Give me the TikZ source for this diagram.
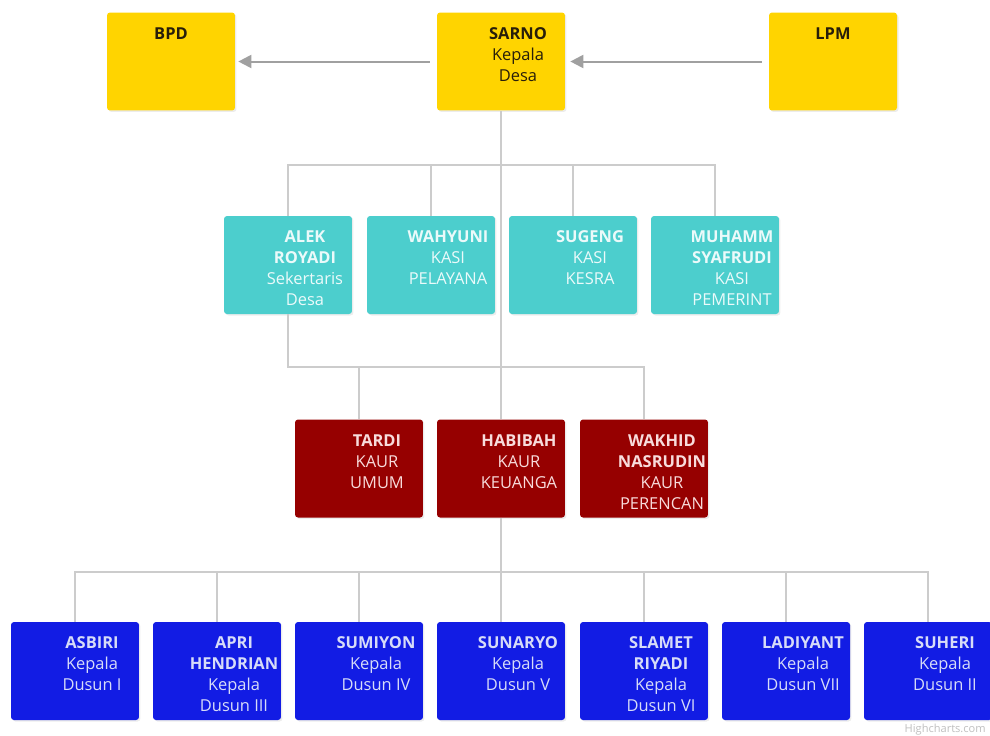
\documentclass[tikz,border=0pt]{standalone}
\usepackage{fontspec}
\setmainfont{Open Sans}
\usetikzlibrary{arrows.meta,shadows}

\definecolor{desayellow}{RGB}{255,212,0}
\definecolor{kasiteal}{RGB}{76,206,205}
\definecolor{kaurred}{RGB}{150,0,0}
\definecolor{dusunblue}{RGB}{18,28,228}
\definecolor{linegray}{RGB}{204,204,204}
\definecolor{arrowgray}{RGB}{160,160,160}
\definecolor{darktext}{RGB}{40,30,10}
\definecolor{tealtext}{RGB}{235,250,250}
\definecolor{redtext}{RGB}{248,220,220}
\definecolor{bluetext}{RGB}{215,220,248}

\tikzset{
  orgbox/.style={rectangle, rounded corners=0.06cm, minimum width=2.56cm,
    minimum height=1.96cm, inner sep=0pt, draw=none,
    drop shadow={shadow xshift=0.03cm, shadow yshift=-0.03cm, opacity=0.15}},
  orgtext/.style={inner sep=0pt, align=center, anchor=north,
    font=\fontsize{9.36pt}{11.9pt}\selectfont},
  treeline/.style={draw=linegray, line width=0.04cm},
  arrowline/.style={draw=arrowgray, line width=0.04cm,
    -{Triangle[length=0.26cm,width=0.26cm]}},
  credit/.style={inner sep=0pt, anchor=base east, text=gray!50,
    font=\fontsize{6.3pt}{7pt}\selectfont}
}

\begin{document}
\begin{tikzpicture}[x=0.02cm, y=-0.02cm]

      \useasboundingbox (0,0) rectangle (990,735);

      % kepala desa and partners
      \begin{scope}[every node/.style={orgbox, fill=desayellow}]
        \node (bpd)   at (171,61.5) {};
        \node (sarno) at (501,61.5) {};
        \node (lpm)   at (833,61.5) {};
      \end{scope}

      % sekretaris and kasi
      \begin{scope}[every node/.style={orgbox, fill=kasiteal}]
        \node (alek)     at (288,265) {};
        \node (wahyuni)  at (431,265) {};
        \node (sugeng)   at (573,265) {};
        \node (muhammad) at (715,265) {};
      \end{scope}

      % kaur
      \begin{scope}[every node/.style={orgbox, fill=kaurred}]
        \node (tardi)   at (359,468.5) {};
        \node (habibah) at (501,468.5) {};
        \node (wakhid)  at (644,468.5) {};
      \end{scope}

      % kepala dusun
      \begin{scope}[every node/.style={orgbox, fill=dusunblue}]
        \node (asbiri)    at (75,671)  {};
        \node (apri)      at (217,671) {};
        \node (sumiyono)  at (359,671) {};
        \node (sunaryo)   at (501,671) {};
        \node (slamet)    at (644,671) {};
        \node (ladiyanto) at (786,671) {};
        \node (suheri)    at (928,671) {};
      \end{scope}

      % texts
      \begin{scope}[every node/.style={orgtext, text=darktext}]
        \node (bpd-t)   at ([yshift=-0.3cm]bpd.north) {\textbf{BPD}};
        \node (sarno-t) at ([xshift=0.34cm,yshift=-0.3cm]sarno.north) {\textbf{SARNO}\\Kepala\\Desa};
        \node (lpm-t)   at ([yshift=-0.3cm]lpm.north) {\textbf{LPM}};
      \end{scope}

      \begin{scope}[every node/.style={orgtext, text=tealtext}]
        \node (alek-t)     at ([xshift=0.34cm,yshift=-0.3cm]alek.north) {\textbf{ALEK}\\\textbf{ROYADI}\\Sekertaris\\Desa};
        \node (wahyuni-t)  at ([xshift=0.34cm,yshift=-0.3cm]wahyuni.north) {\textbf{WAHYUNI}\\KASI\\PELAYANA};
        \node (sugeng-t)   at ([xshift=0.34cm,yshift=-0.3cm]sugeng.north) {\textbf{SUGENG}\\KASI\\KESRA};
        \node (muhammad-t) at ([xshift=0.34cm,yshift=-0.3cm]muhammad.north) {\textbf{MUHAMM}\\\textbf{SYAFRUDI}\\KASI\\PEMERINT};
      \end{scope}

      \begin{scope}[every node/.style={orgtext, text=redtext}]
        \node (tardi-t)   at ([xshift=0.36cm,yshift=-0.3cm]tardi.north) {\textbf{TARDI}\\KAUR\\UMUM};
        \node (habibah-t) at ([xshift=0.36cm,yshift=-0.3cm]habibah.north) {\textbf{HABIBAH}\\KAUR\\KEUANGA};
        \node (wakhid-t)  at ([xshift=0.36cm,yshift=-0.3cm]wakhid.north) {\textbf{WAKHID}\\\textbf{NASRUDIN}\\KAUR\\PERENCAN};
      \end{scope}

      \begin{scope}[every node/.style={orgtext, text=bluetext}]
        \node (asbiri-t)    at ([xshift=0.34cm,yshift=-0.3cm]asbiri.north) {\textbf{ASBIRI}\\Kepala\\Dusun I};
        \node (apri-t)      at ([xshift=0.34cm,yshift=-0.3cm]apri.north) {\textbf{APRI}\\\textbf{HENDRIAN}\\Kepala\\Dusun III};
        \node (sumiyono-t)  at ([xshift=0.34cm,yshift=-0.3cm]sumiyono.north) {\textbf{SUMIYON}\\Kepala\\Dusun IV};
        \node (sunaryo-t)   at ([xshift=0.34cm,yshift=-0.3cm]sunaryo.north) {\textbf{SUNARYO}\\Kepala\\Dusun V};
        \node (slamet-t)    at ([xshift=0.34cm,yshift=-0.3cm]slamet.north) {\textbf{SLAMET}\\\textbf{RIYADI}\\Kepala\\Dusun VI};
        \node (ladiyanto-t) at ([xshift=0.34cm,yshift=-0.3cm]ladiyanto.north) {\textbf{LADIYANT}\\Kepala\\Dusun VII};
        \node (suheri-t)    at ([xshift=0.34cm,yshift=-0.3cm]suheri.north) {\textbf{SUHERI}\\Kepala\\Dusun II};
      \end{scope}

      % connectors
      \draw[arrowline, shorten <=0.14cm, shorten >=0.06cm] (sarno.west) -- (bpd.east);
      \draw[arrowline, shorten <=0.14cm, shorten >=0.1cm] (lpm.west) -- (sarno.east);

      \draw[treeline] (sarno.south) -- (habibah.north);
      \draw[treeline] (alek.north) -- ++(0,-51) -| (muhammad.north);
      \draw[treeline] (wahyuni.north) -- ++(0,-51);
      \draw[treeline] (sugeng.north) -- ++(0,-51);

      \draw[treeline] (alek.south) -- ++(0,53) -| (wakhid.north);
      \draw[treeline] (tardi.north) -- ++(0,-52);

      \draw[treeline] (habibah.south) -- ++(0,54);
      \draw[treeline] (asbiri.north) -- ++(0,-50) -| (suheri.north);
      \foreach \n in {apri,sumiyono,sunaryo,slamet,ladiyanto}
        \draw[treeline] (\n.north) -- ++(0,-50);

      \node[credit] (credit) at (986,732) {Highcharts.com};

    \end{tikzpicture}
\end{document}
